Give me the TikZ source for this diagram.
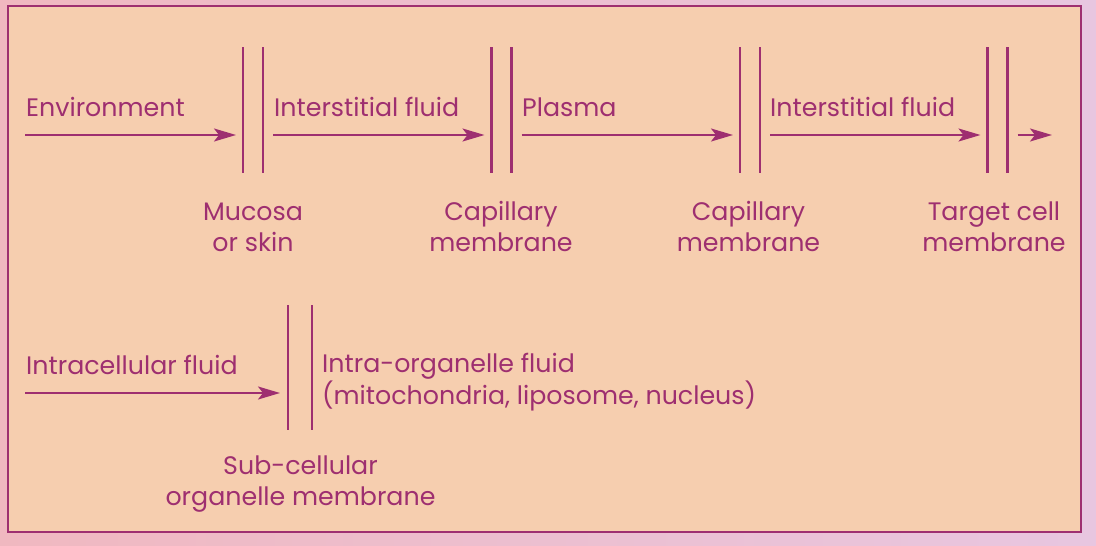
\documentclass[tikz,border=0pt]{standalone}
\usepackage{fontspec}
\setmainfont{Poppins}
\definecolor{plum}{RGB}{158,47,112}
\definecolor{peach}{RGB}{246,206,175}
\definecolor{rosy}{RGB}{240,184,192}
\definecolor{lilac}{RGB}{232,198,224}
\usetikzlibrary{arrows.meta, positioning}

\begin{document}
\begin{tikzpicture}[
    x=1pt, y=-1pt,
    arr/.style={-{Stealth[length=22pt, width=13pt, inset=5pt]}, line width=2pt, plum},
    wall/.style={line width=2.4pt, plum},
    lbl/.style={font=\fontsize{25.3}{30}\selectfont, text=plum, inner sep=0pt, anchor=base west, align=left},
    mlabel/.style={font=\fontsize{25.3}{31}\selectfont, text=plum, inner sep=0pt, anchor=base, align=center}
  ]
    % page and frame
    \shade[left color=rosy, right color=lilac] (0,0) rectangle (1096,546);
    \draw[plum, line width=1.2pt, fill=peach] (8,6) rectangle (1081,532);

    % membranes, first row
    \foreach \m/\c in {mA/253, mB/501.5, mC/750, mD/997.5} {
      \draw[wall] (\c-10,47) -- (\c-10,173);
      \draw[wall] (\c+10,47) -- (\c+10,173);
      \coordinate (\m-in) at (\c-17,135);
      \coordinate (\m-out) at (\c+20,135);
    }
    \coordinate (src) at (25,135);
    \coordinate (end) at (1052,135);

    \node[lbl] (env) at (26,116) {Environment};
    \node[lbl] (isf1) at (274,116) {Interstitial fluid};
    \node[lbl] (plasma) at (522,116) {Plasma};
    \node[lbl] (isf2) at (770,116) {Interstitial fluid};

    \draw[arr] (src) -- (mA-in);
    \draw[arr] (mA-out) -- (mB-in);
    \draw[arr] (mB-out) -- (mC-in);
    \draw[arr] (mC-out) -- (mD-in);
    \draw[arr] (mD-out) -- (end);

    % anchor=base sits on the last line
    \node[mlabel] (mucosa) at (253,251) {Mucosa\\or skin};
    \node[mlabel] (capA) at (501,251) {Capillary\\membrane};
    \node[mlabel] (capB) at (748.5,251) {Capillary\\membrane};
    \node[mlabel] (target) at (994,251) {Target cell\\membrane};

    % second row
    \draw[wall] (288,305) -- (288,430);
    \draw[wall] (312,305) -- (312,430);
    \coordinate (icf) at (25,393);
    \coordinate (mE-in) at (280,393);

    \node[lbl] (icflbl) at (26,374) {Intracellular fluid};
    \node[lbl] (organelle) at (322,404) {Intra-organelle fluid\\(mitochondria, liposome, nucleus)};
    \draw[arr] (icf) -- (mE-in);

    \node[mlabel] (subcell) at (300.5,505) {Sub-cellular\\organelle membrane};
  \end{tikzpicture}
\end{document}
